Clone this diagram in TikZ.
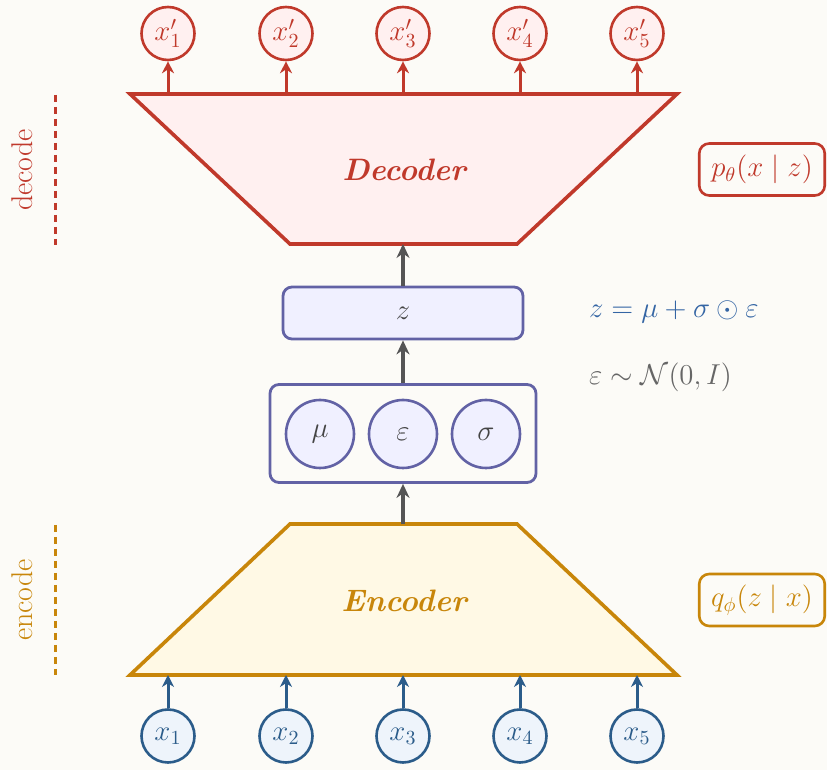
\documentclass[tikz,border=0pt]{standalone}
\usepackage{amsmath,amssymb}
\usetikzlibrary{arrows.meta}

\definecolor{bgc}{HTML}{FCFBF7}
\definecolor{redc}{HTML}{C0392B}
\definecolor{redfill}{HTML}{FFF0F0}
\definecolor{goldc}{HTML}{C8860A}
\definecolor{goldfill}{HTML}{FFF9E5}
\definecolor{purpc}{HTML}{6262A5}
\definecolor{purpfill}{HTML}{F0F0FF}
\definecolor{bluec}{HTML}{2B5C8A}
\definecolor{bluefill}{HTML}{EEF4FB}
\definecolor{arrc}{HTML}{555555}
\definecolor{eqblue}{HTML}{3465A4}
\definecolor{eqgray}{HTML}{666666}
\definecolor{inkc}{HTML}{444444}

\tikzset{
  mathlbl/.style={font=\fontsize{14}{16}\selectfont},
  outcirc/.style={circle, draw=redc, fill=redfill, line width=1.3pt, minimum size=26.5pt, inner sep=0pt, text=redc, mathlbl},
  incirc/.style={circle, draw=bluec, fill=bluefill, line width=1.3pt, minimum size=26.5pt, inner sep=0pt, text=bluec, mathlbl},
  latcirc/.style={circle, draw=purpc, fill=purpfill, line width=1.3pt, minimum size=34pt, inner sep=0pt, text=inkc, mathlbl},
  latbox/.style={draw=purpc, line width=1.4pt, rounded corners=4.5pt, inner sep=0pt},
  distbox/.style={rounded corners=5pt, line width=1.3pt, fill=bgc, minimum width=62.75pt, minimum height=26pt, inner sep=0pt, font=\fontsize{14}{16}\selectfont},
  sidelbl/.style={rotate=90, font=\fontsize{15}{18}\selectfont},
  sidedash/.style={line width=1.5pt, dash pattern=on 3.5pt off 2.5pt},
  trap/.style={line width=1.8pt, line join=miter},
  netlbl/.style={font=\fontsize{15.5}{18}\selectfont\bfseries\itshape},
  redarr/.style={draw=redc, line width=1.5pt, -{Stealth[length=6pt,width=6pt]}},
  bluearr/.style={draw=bluec, line width=1.5pt, -{Stealth[length=6pt,width=6pt]}},
  grayarr/.style={draw=arrc, line width=1.7pt, -{Stealth[length=7pt,width=6.5pt]}},
}

\begin{document}
\begin{tikzpicture}[x=0.5pt, y=-0.5pt]
  \useasboundingbox[fill=bgc] (0,0) rectangle (827,770);

  % decoder trapezoid
  \draw[trap, draw=redc, fill=redfill] (130,94) -- (677,94) -- (517,244) -- (290,244) -- cycle;
  \node[netlbl, text=redc] (dec) at (404,170) {Decoder};
  \coordinate (decbot) at (403,244);

  % encoder trapezoid
  \draw[trap, draw=goldc, fill=goldfill] (290,524) -- (517,524) -- (677,675) -- (130,675) -- cycle;
  \node[netlbl, text=goldc] (enc) at (404,601) {Encoder};
  \coordinate (enctop) at (403,524);

  % outputs and inputs
  \foreach \i/\x in {1/168, 2/286, 3/403, 4/520, 5/637} {
    \node[outcirc] (xo\i) at (\x,33.5) {$x'_{\i}$};
    \coordinate (dt\i) at (\x,94);
    \draw[redarr] (dt\i) -- (xo\i);
    \node[incirc] (xi\i) at (\x,736) {$x_{\i}$};
    \coordinate (eb\i) at (\x,675);
    \draw[bluearr] (xi\i) -- (eb\i);
  }

  % latent parameters
  \node[latbox, minimum width=133pt, minimum height=49pt] (lat) at (403,433.5) {};
  \node[latcirc] (mu) at (320,434) {$\mu$};
  \node[latcirc] (eps) at (403,434) {$\varepsilon$};
  \node[latcirc] (sig) at (486,434) {$\sigma$};

  % sampled latent
  \node[latbox, fill=purpfill, minimum width=120pt, minimum height=26pt, text=inkc, mathlbl] (z) at (403,313) {$z$};

  % main flow
  \draw[grayarr] (enctop) -- (lat.south);
  \draw[grayarr] (lat.north) -- (z.south);
  \draw[grayarr] (z.north) -- (decbot);

  % reparameterisation
  \node[anchor=west, text=eqblue, font=\fontsize{13.5}{16}\selectfont] (reparam) at (582,312) {$z = \mu + \sigma \odot \varepsilon$};
  \node[anchor=west, text=eqgray, font=\fontsize{13.5}{16}\selectfont] (noise) at (582,377) {$\varepsilon \sim \mathcal{N}(0, I)$};

  % distributions
  \node[distbox, draw=redc, text=redc] (pdist) at (762,169.5) {$p_\theta(x \mid z)$};
  \node[distbox, draw=goldc, text=goldc] (qdist) at (762,600) {$q_\phi(z \mid x)$};

  % side labels
  \coordinate (dd1) at (55,95);
  \coordinate (dd2) at (55,245);
  \draw[sidedash, draw=redc] (dd1) -- (dd2);
  \node[sidelbl, text=redc] (declbl) at (22,170) {decode};
  \coordinate (ed1) at (55,525);
  \coordinate (ed2) at (55,675);
  \draw[sidedash, draw=goldc] (ed1) -- (ed2);
  \node[sidelbl, text=goldc] (enclbl) at (22,600) {encode};
\end{tikzpicture}
\end{document}
